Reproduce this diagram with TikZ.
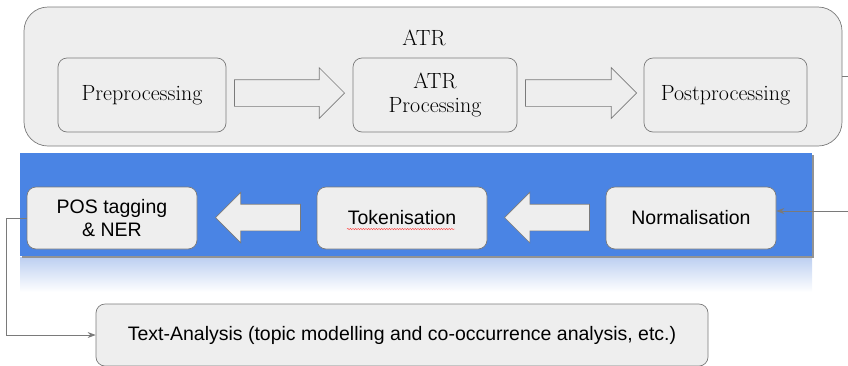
\documentclass[tikz,border=0pt]{standalone}
\usepackage{fontspec}
\newfontfamily\arialfont{Liberation Sans}
\usetikzlibrary{shapes.arrows, arrows.meta, decorations.pathmorphing}
\definecolor{boxgray}{HTML}{EEEEEE}
\definecolor{linegray}{HTML}{7A7A7A}
\definecolor{bandblue}{HTML}{4A84E4}
\definecolor{fadeblue}{HTML}{BCCFF1}

\begin{document}
\begin{tikzpicture}[x = 1pt, y = -1pt,
		stage/.style = {draw = linegray, line width = 0.7pt, fill = boxgray, rounded corners = 9pt, minimum height = 74pt, align = center, font = \fontsize{22}{24}\selectfont},
		task/.style = {draw = linegray, line width = 0.7pt, fill = boxgray, rounded corners = 9pt, minimum width = 170pt, minimum height = 62pt, align = center, font = \arialfont\fontsize{19.5}{23}\selectfont},
		blockarrow/.style = {single arrow, draw = linegray, line width = 0.7pt, fill = boxgray, inner xsep = 0pt, inner ysep = 13pt, single arrow head extend = 12pt, single arrow tip angle = 90, anchor = tip},
		link/.style = {draw = linegray, line width = 0.8pt, -{Stealth[length = 8pt, width = 6pt]}}]
		\useasboundingbox (0, 0) rectangle (848, 365);
		\clip (0, 0) rectangle (848, 365);
		%%%%%%%%%%%%% ATR block
		\node (atr) [draw = linegray, line width = 0.7pt, fill = boxgray, rounded corners = 24pt, minimum width = 818pt, minimum height = 139pt] at (433, 76.5) {};
		\node (atrtitle) [font = \fontsize{22}{24}\selectfont] at (424, 38) {ATR};
		\node (pre) [stage, minimum width = 168pt] at (142, 95) {Preprocessing};
		\node (proc) [stage, minimum width = 164pt] at (435, 95) {ATR\\Processing};
		\node (post) [stage, minimum width = 163pt] at (725.5, 95) {Postprocessing};
		\node (a1) [blockarrow, minimum height = 110pt] at (345, 93) {};
		\node (a2) [blockarrow, minimum height = 111pt] at (637, 93) {};
		%%%%%%%%%%%%% NLP band
		\shade [top color = fadeblue, bottom color = white] (20, 257) rectangle (812, 292);
		\fill [gray!85] (21.5, 154.5) rectangle (813.5, 257.5);
		\fill [bandblue] (20, 153) rectangle (812, 256);
		\node (pos) [task] at (112, 218) {POS tagging\\\& NER};
		\node (tok) [task] at (402, 218) {Tokenisation};
		\node (norm) [task] at (691, 218) {Normalisation};
		\node (b1) [blockarrow, shape border rotate = 180, minimum height = 85pt] at (215, 217.5) {};
		\node (b2) [blockarrow, shape border rotate = 180, minimum height = 85pt] at (504, 217.5) {};
		\draw [red!75, line width = 0.4pt, decorate, decoration = {snake, amplitude = 0.7pt, segment length = 2.6pt}] ([xshift = -55pt, yshift = -11pt]tok.center) -- ([xshift = 53pt, yshift = -11pt]tok.center);
		%%%%%%%%%%%%% analysis
		\node (text) [task, minimum width = 612pt, minimum height = 62pt] at (402, 335) {Text-Analysis (topic modelling and co-occurrence analysis, etc.)};
		%%%%%%%%%%%%%
		\draw [link] (atr.east) -- ++(30, 0) |- ([yshift = 7pt]norm.east);
		\draw [link] (pos.west) -- ++(-20, 0) |- (text.west);
\end{tikzpicture}
\end{document}
